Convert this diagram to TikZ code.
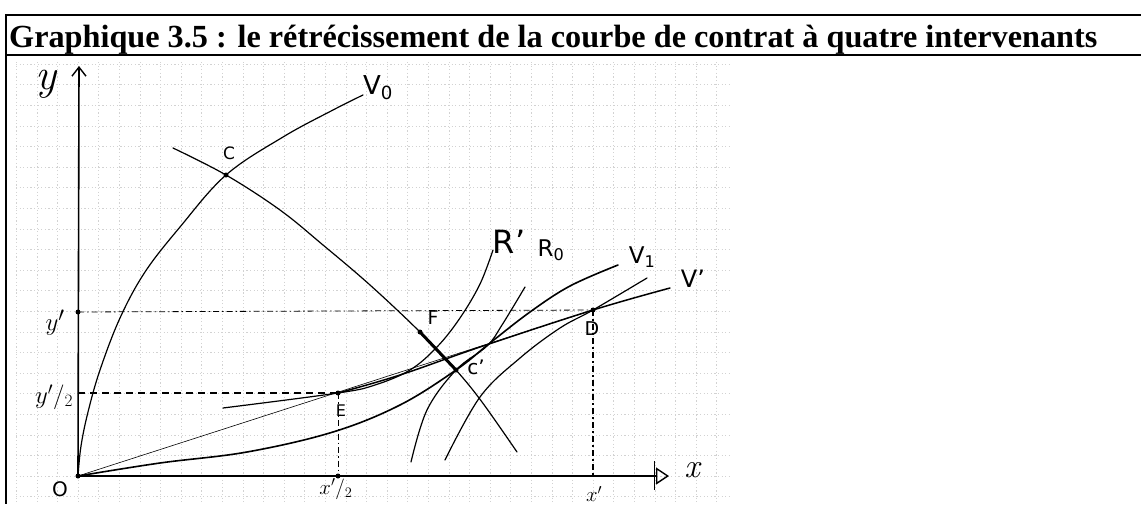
\documentclass[tikz,border=0pt]{standalone}
\usepackage{graphicx}
\usepackage{fontspec}
\newfontfamily\titlefont{Liberation Serif}
\newfontfamily\handfont{DejaVu Sans}
\usetikzlibrary{arrows.meta}
\begin{document}
\begin{tikzpicture}[x=1pt,y=-1pt,
  frame/.style={line width=2.2pt},
  gridline/.style={gray!35,line width=0.4pt,dash pattern=on 1.2pt off 2.4pt},
  axis/.style={line width=1.6pt},
  curve/.style={line width=1.2pt,line cap=round},
  thincurve/.style={line width=0.6pt},
  heavy/.style={line width=3pt,line cap=round},
  guide/.style={line width=1.3pt,dash pattern=on 7pt off 5pt},
  guidelight/.style={line width=0.8pt,dash pattern=on 6pt off 3pt on 1.5pt off 3pt},
  pt/.style={circle,fill=black,inner sep=0pt,minimum size=5pt},
  hand/.style={inner sep=0pt,font=\handfont\fontsize{#1}{#1}\selectfont},
  cursive/.style={inner sep=0pt,font=\itshape\fontsize{#1}{#1}\selectfont}
]
\useasboundingbox (0,0) rectangle (1141,504);

% graph paper
\foreach \k in {-3,...,31} \draw[gridline] ({78+20.6*\k},62) -- ({78+20.6*\k},504);
\foreach \k in {-1,...,20} \draw[gridline] (16,{476-20.6*\k}) -- (730,{476-20.6*\k});

% frame and title
\draw[frame] (1141,15) -- (6,15) -- (6,504);
\draw[frame] (6,55) -- (1141,55);
\node[anchor=base west,inner sep=0pt] (title) at (9,47)
  {\resizebox{1088pt}{!}{\titlefont\bfseries Graphique 3.5 : le rétrécissement de la courbe de contrat à quatre intervenants}};

% key points
\coordinate (O) at (78,476);
\coordinate (ytop) at (79,66);
\coordinate (xend) at (669,476);
\coordinate (C) at (226,175);
\coordinate (F) at (420,332);
\coordinate (E) at (338,393);
\coordinate (D) at (593,310);
\coordinate (Cp) at (456,370);
\coordinate (yp) at (78,312);
\coordinate (yh) at (78,393);
\coordinate (xh) at (338,476);
\coordinate (xp) at (593,476);

% guides
\draw[guide] (yh) -- (E);
\draw[guidelight] (yp) -- (D);
\draw[guidelight] (E) -- (xh);
\draw[guide,dash pattern=on 6pt off 3pt on 2pt off 3pt] (D) -- (xp);

% axes
\draw[axis,-{Straight Barb[length=9pt,width=14pt,line width=1.4pt]}] (O) -- (ytop);
\draw[axis,-{Triangle[open,length=13pt,width=17pt,line width=1.4pt]}] (O) -- (xend);
\draw[line width=1pt] (654,461) -- (654,490);

% ray O-D
\draw[thincurve] (O) -- (D);

% V0
\draw[curve] plot[smooth,tension=0.6] coordinates {(78,476) (81,446) (88,412) (100,370) (120,318) (145,272) (180,227) (226,175) (283,137) (333,110) (363,95)};
% contract curve
\draw[curve] plot[smooth,tension=0.6] coordinates {(173,148) (226,175) (280,210) (323,245) (370,285) (420,332) (456,370) (482,402) (517,452)};
\draw[heavy] (F) -- (Cp);
% V1
\draw[curve,line width=1.6pt] plot[smooth,tension=0.6] coordinates {(78,476) (160,463) (247,452) (333,432) (400,405) (456,370) (490,343) (530,312) (570,286) (618,265)};
% R'
\draw[curve] plot[smooth,tension=0.6] coordinates {(223,408) (338,393) (375,385) (410,370) (437,347) (460,318) (480,284) (493,250)};
% V'
\draw[curve,line width=1.5pt] plot[smooth,tension=0.6] coordinates {(338,393) (400,375) (480,347) (593,310) (670,288)};
% R0
\draw[curve] plot[smooth,tension=0.6] coordinates {(411,462) (427,410) (456,370) (487,346) (502,325) (525,287)};
% curve through D
\draw[curve] plot[smooth,tension=0.6] coordinates {(445,460) (480,397) (520,358) (560,328) (593,310) (647,278)};

% points
\foreach \p in {O,C,F,E,D,Cp,yp,xh} \node[pt] at (\p) {};

% labels
\node[cursive=44] (ylab) at (46,84) {y};
\node[hand=20] (Olab) at (60,489) {O};
\node[cursive=34] (xlab) at (692,470) {x};
\node[cursive=22] (xhlab) at (336,489) {$x'/_2$};
\node[cursive=20] (xplab) at (594,494) {$x'$};
\node[cursive=28] (yplab) at (55,323) {$y'$};
\node[cursive=24] (yhlab) at (54,397) {$y'/_2$};
\node[hand=17] (Clab) at (229,153) {C};
\node[hand=26] (V0lab) at (378,88) {V\textsubscript{0}};
\node[hand=19] (Flab) at (433,318) {F};
\node[hand=16] (Elab) at (341,411) {E};
\node[hand=19] (Dlab) at (592,329) {D};
\node[hand=20] (Cplab) at (476,367) {c’};
\node[hand=32] (Rplab) at (509,242) {R’};
\node[hand=23] (R0lab) at (551,250) {R\textsubscript{0}};
\node[hand=23] (V1lab) at (642,257) {V\textsubscript{1}};
\node[hand=24] (Vplab) at (693,279) {V’};
\end{tikzpicture}
\end{document}
